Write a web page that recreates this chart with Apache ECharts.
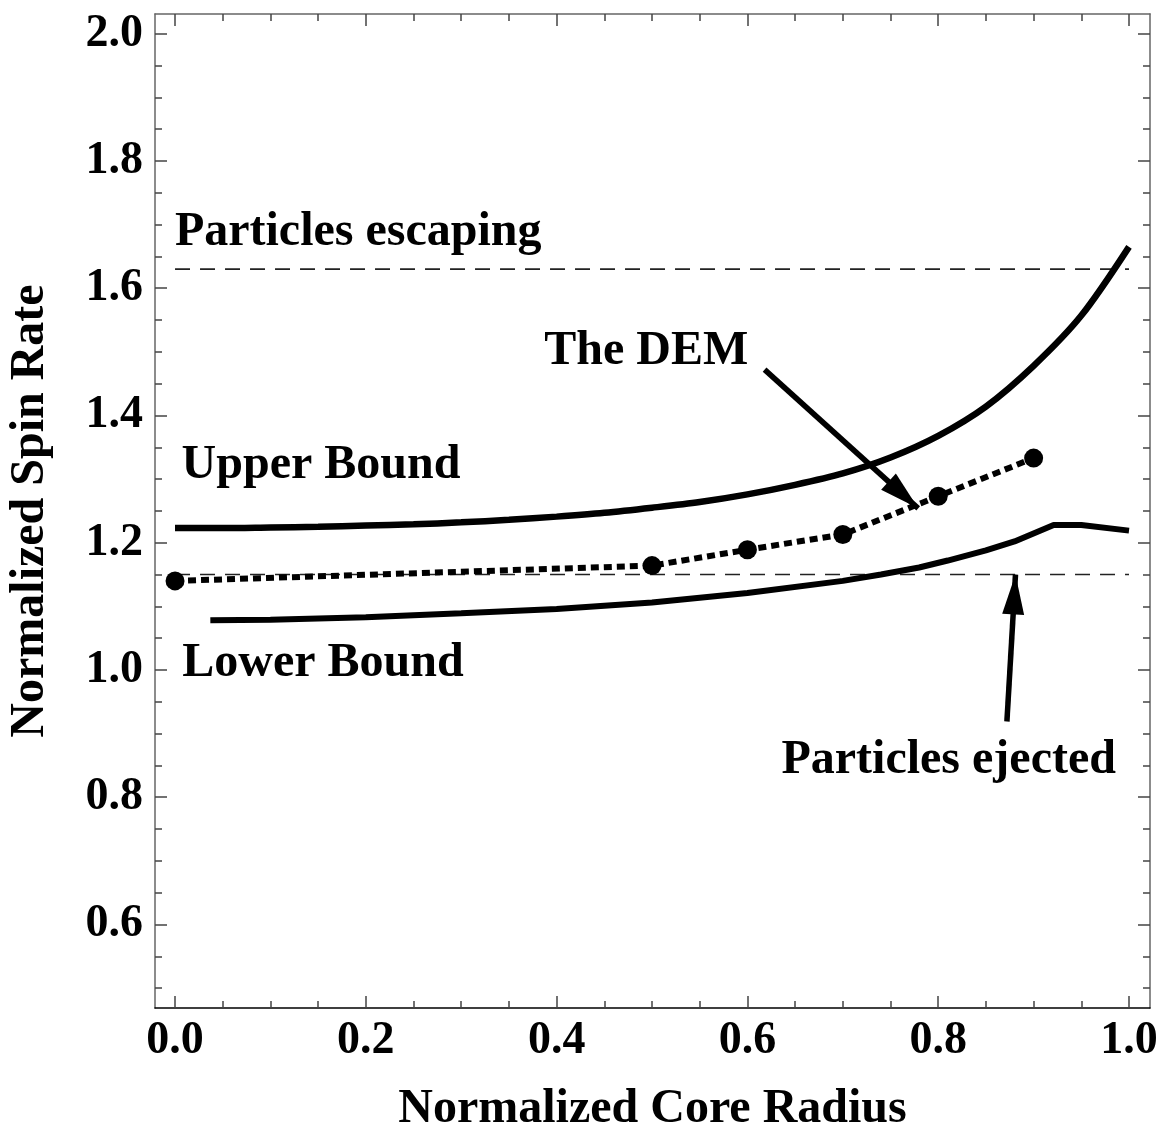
<!DOCTYPE html>
<html>
<head>
<meta charset="utf-8">
<script src="https://cdn.jsdelivr.net/npm/echarts@6/dist/echarts.min.js"></script>
<style>
  html, body { margin: 0; background: #fff; }
  #main { width: 1162px; height: 1131px; }
</style>
</head>
<body>
<div id="main"></div>
<script>
// upper bound curve
const upperX = [0, 0.05, 0.1, 0.15, 0.2, 0.25, 0.3, 0.35, 0.4, 0.45, 0.5, 0.55, 0.6, 0.65, 0.7, 0.75, 0.8, 0.85, 0.9, 0.95, 1.0];
const upperY = [1.223, 1.223, 1.224, 1.225, 1.227, 1.229, 1.232, 1.236, 1.241, 1.247, 1.255, 1.264, 1.276, 1.291,
                1.309, 1.334, 1.368, 1.414, 1.478, 1.557, 1.665];
// lower bound curve
const lowerX = [0.037, 0.1, 0.2, 0.3, 0.4, 0.5, 0.6, 0.7, 0.74, 0.78, 0.81, 0.85, 0.88, 0.921, 0.95, 1.0];
const lowerY = [1.078, 1.079, 1.083, 1.089, 1.096, 1.106, 1.121, 1.140, 1.150, 1.161, 1.172, 1.188, 1.202, 1.228, 1.228, 1.219];
// DEM results
const demX = [0, 0.5, 0.6, 0.7, 0.8, 0.9];
const demY = [1.140, 1.164, 1.189, 1.213, 1.273, 1.333];
// horizontal limits
const escapeY = 1.63;
const ejectY = 1.15;
const limitX = [0, 1.0];
// annotations
const noteText = ['Particles escaping', 'The DEM', 'Upper Bound', 'Lower Bound', 'Particles ejected'];
const noteX = [0.192, 0.494, 0.153, 0.155, 0.811];
const noteY = [1.687, 1.500, 1.321, 1.010, 0.857];
const arrowFrom = [[0.618, 1.472], [0.872, 0.919]];
const arrowTo = [[0.779, 1.254], [0.881, 1.150]];
// ticks
const xMajor = [0, 0.2, 0.4, 0.6, 0.8, 1.0];
const xMinor = [0.05, 0.1, 0.15, 0.25, 0.3, 0.35, 0.45, 0.5, 0.55, 0.65, 0.7, 0.75, 0.85, 0.9, 0.95];
const yMajor = [0.6, 0.8, 1.0, 1.2, 1.4, 1.6, 1.8, 2.0];
const yMinor = [0.5, 0.55, 0.65, 0.7, 0.75, 0.85, 0.9, 0.95, 1.05, 1.1, 1.15, 1.25, 1.3, 1.35,
                1.45, 1.5, 1.55, 1.65, 1.7, 1.75, 1.85, 1.9, 1.95];

const xRange = [-0.021, 1.022];
const yRange = [0.4687, 2.031];
const font = 'Liberation Serif';

const chart = echarts.init(document.getElementById('main'));

function axisDef(range, pos, ticks, len, showLabel, lineColor, margin, extra) {
  return Object.assign({
    type: 'value', position: pos, min: range[0], max: range[1],
    splitLine: { show: false },
    axisLine: { show: lineColor != null, onZero: false, lineStyle: { color: lineColor || '#000', width: 1.5 } },
    axisTick: { inside: true, length: len, customValues: ticks, lineStyle: { color: '#444', width: 1.5 } },
    axisLabel: showLabel ? {
      customValues: ticks, margin: margin, color: '#000',
      fontFamily: font, fontWeight: 'bold', fontSize: 46,
      formatter: v => v.toFixed(1)
    } : { show: false }
  }, extra || {});
}

const nameStyle = { fontFamily: font, fontWeight: 'bold', fontSize: 48, color: '#000' };

const option = {
  animation: false,
  backgroundColor: '#fff',
  grid: { left: 155, top: 14, width: 995, height: 994, containLabel: false, outerBoundsMode: 'none' },
  xAxis: [
    axisDef(xRange, 'bottom', xMajor, 12, true, '#000', 10, {
      name: 'Normalized Core Radius', nameLocation: 'middle', nameGap: 78, nameTextStyle: nameStyle
    }),
    axisDef(xRange, 'bottom', xMinor, 7, false, null),
    axisDef(xRange, 'top', xMajor, 12, false, '#666'),
    axisDef(xRange, 'top', xMinor, 7, false, null)
  ],
  yAxis: [
    axisDef(yRange, 'left', yMajor, 12, true, '#666', 12, {
      name: 'Normalized Spin Rate', nameLocation: 'middle', nameGap: 100, nameTextStyle: nameStyle
    }),
    axisDef(yRange, 'left', yMinor, 7, false, null),
    axisDef(yRange, 'right', yMajor, 12, false, '#666'),
    axisDef(yRange, 'right', yMinor, 7, false, null)
  ],
  series: [
    {
      name: 'escape', type: 'line', symbol: 'none', silent: true,
      data: limitX.map(x => [x, escapeY]),
      lineStyle: { color: '#222', width: 1.6, type: [15, 10] }
    },
    {
      name: 'eject', type: 'line', symbol: 'none', silent: true,
      data: limitX.map(x => [x, ejectY]),
      lineStyle: { color: '#222', width: 1.6, type: [15, 10] }
    },
    {
      name: 'Upper Bound', type: 'line', symbol: 'none', smooth: 0.3,
      data: upperX.map((x, i) => [x, upperY[i]]),
      lineStyle: { color: '#000', width: 6.5 }
    },
    {
      name: 'Lower Bound', type: 'line', symbol: 'none',
      data: lowerX.map((x, i) => [x, lowerY[i]]),
      lineStyle: { color: '#000', width: 6 }
    },
    {
      name: 'The DEM', type: 'line', symbol: 'circle', symbolSize: 19, z: 5,
      data: demX.map((x, i) => [x, demY[i]]),
      itemStyle: { color: '#000' },
      lineStyle: { color: '#000', width: 6, type: [8, 5] }
    },
    {
      name: 'notes', type: 'scatter', symbolSize: 0, silent: true, z: 6,
      data: noteText.map((t, i) => ({ name: t, value: [noteX[i], noteY[i]] })),
      itemStyle: { color: '#000', opacity: 1 },
      label: {
        show: true, position: 'inside', formatter: p => p.name, color: '#000',
        textBorderWidth: 0, opacity: 1,
        fontFamily: font, fontWeight: 'bold', fontSize: 48
      },
      markLine: {
        silent: true, symbol: ['none', 'triangle'], symbolSize: [22, 40],
        symbolOffset: [[0, 0], [0, 20]],
        lineStyle: { color: '#000', width: 5.5, type: 'solid', opacity: 1 },
        label: { show: false },
        data: arrowFrom.map((f, i) => [{ coord: f }, { coord: arrowTo[i] }])
      }
    }
  ]
};

chart.setOption(option);
</script>
</body>
</html>
